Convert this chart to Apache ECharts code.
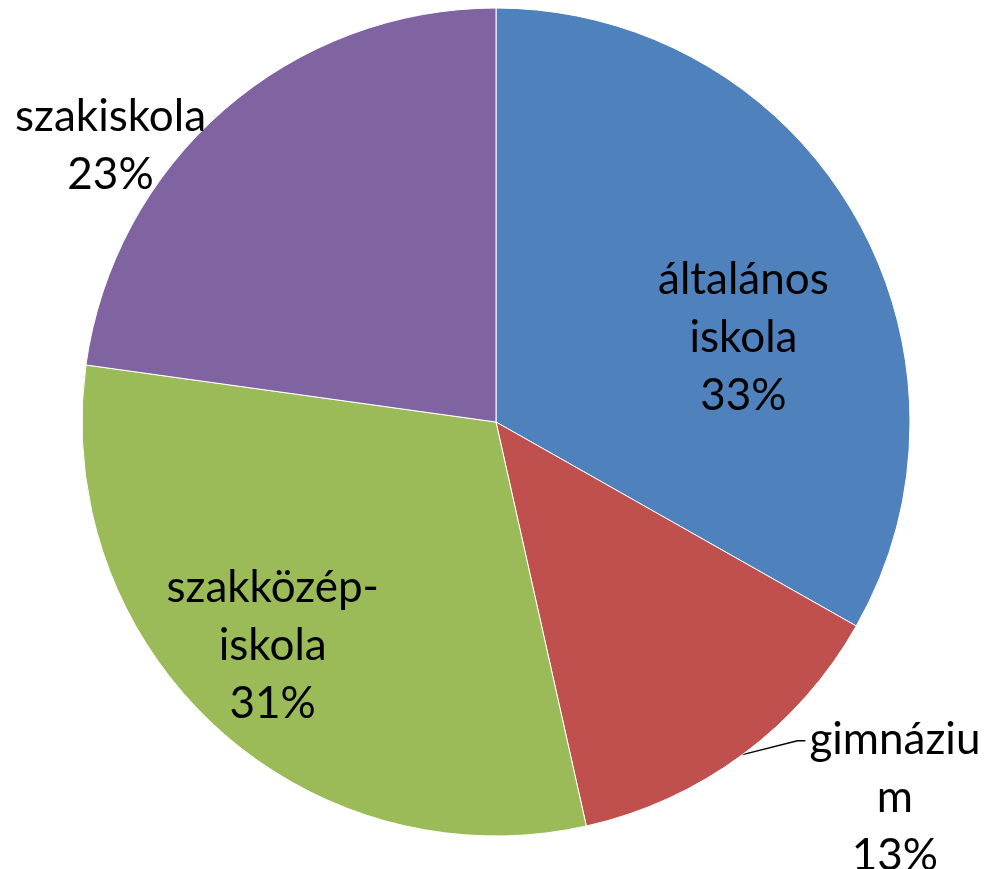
<!DOCTYPE html>
<html>
<head>
<meta charset="utf-8">
<script src="https://cdn.jsdelivr.net/npm/echarts@6/dist/echarts.min.js"></script>
<style>
  html, body { margin: 0; padding: 0; background: #fff; }
  #chart { width: 986px; height: 869px; }
</style>
</head>
<body>
<div id="chart"></div>
<script>
// iskolatípusok megoszlása
const categories = ['általános iskola', 'gimnázium', 'szakközép-iskola', 'szakiskola']
const labelTexts = ['általános\niskola', 'gimnáziu\nm', 'szakközép-\niskola', 'szakiskola']
const values = [33.2, 13.3, 30.7, 22.8]
const colors = ['#4F81BD', '#C0504D', '#9BBB59', '#8064A2']

// label offsets (px) from the library's default label position
const labelShift = [[66, 22], [40, 27], [-81, 69], [10, 51]]

const chart = echarts.init(document.getElementById('chart'))

const data = categories.map((name, i) => ({
  name: name,
  value: values[i],
  itemStyle: { color: colors[i] },
  label: { position: i === 1 || i === 3 ? 'outside' : 'inside' },
  labelLine: { show: i === 1 }
}))

chart.setOption({
  animation: false,
  series: [
    {
      type: 'pie',
      center: [496, 422],
      radius: 414,
      startAngle: 90,
      clockwise: true,
      avoidLabelOverlap: false,
      itemStyle: {
        borderColor: '#ffffff',
        borderWidth: 1
      },
      label: {
        color: '#000',
        fontSize: 44,
        fontFamily: 'Lato',
        lineHeight: 58,
        align: 'center',
        formatter: (p) => labelTexts[p.dataIndex] + '\n' + Math.round(p.percent) + '%'
      },
      labelLine: {
        length: 20,
        length2: 10,
        lineStyle: { color: '#000', width: 1.5 }
      },
      labelLayout: (p) => {
        const r = p.labelRect
        const s = labelShift[p.dataIndex]
        const out = {
          x: r.x + r.width / 2 + s[0],
          y: r.y + r.height / 2 + s[1],
          align: 'center',
          verticalAlign: 'middle'
        }
        // leader line: from slice edge to the left of the first text line
        if (p.labelLinePoints) {
          const left = r.x + s[0]
          const firstY = r.y + s[1] + 30
          out.labelLinePoints = [p.labelLinePoints[0], [left - 12, firstY], [left - 4, firstY]]
        }
        return out
      },
      data: data
    }
  ]
})
</script>
</body>
</html>
